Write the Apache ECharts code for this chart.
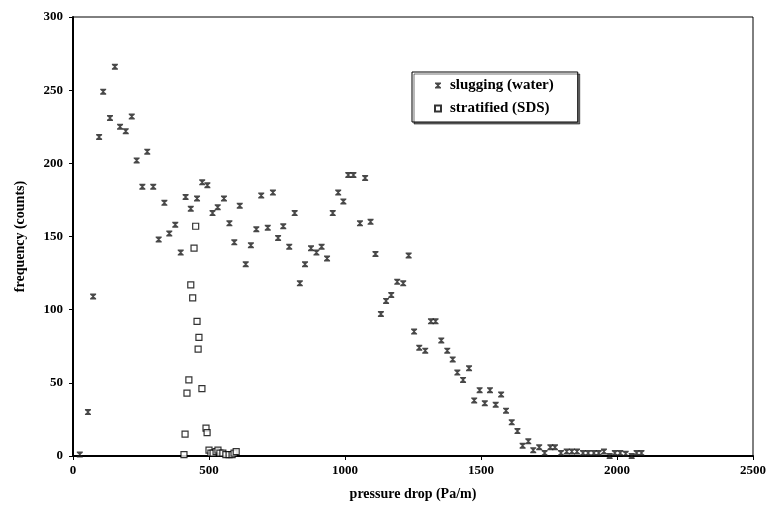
<!DOCTYPE html>
<html>
<head>
<meta charset="utf-8">
<script src="https://cdn.jsdelivr.net/npm/echarts@6/dist/echarts.min.js"></script>
<style>
  html, body { margin: 0; padding: 0; background: #fff; }
  #chart { width: 770px; height: 506px; }
</style>
</head>
<body>
<div id="chart"></div>
<script>
  // pressure drop (Pa/m) and frequency (counts)
  var slugX = [25, 55, 74, 96, 111, 136, 154, 173, 194, 216, 234, 273, 255, 295, 315, 336, 354, 376, 396, 414,
    433, 456, 475, 494, 513, 532, 555, 575, 593, 613, 635, 654, 674, 692, 716, 735, 754, 773, 795, 815,
    834, 853, 875, 895, 914, 934, 955, 975, 994, 1012, 1031, 1055, 1074, 1094, 1112, 1132, 1151, 1170, 1192, 1214,
    1234, 1254, 1273, 1295, 1316, 1333, 1354, 1376, 1396, 1413, 1434, 1456, 1475, 1495, 1514, 1533, 1554, 1574, 1592, 1613,
    1634, 1653, 1674, 1692, 1714, 1734, 1755, 1772, 1794, 1815, 1834, 1853, 1875, 1894, 1915, 1933, 1952, 1973, 1992, 2012,
    2032, 2054, 2072, 2090];
  var slugY = [1, 30, 109, 218, 249, 231, 266, 225, 222, 232, 202, 208, 184, 184, 148, 173, 152, 158, 139, 177,
    169, 176, 187, 185, 166, 170, 176, 159, 146, 171, 131, 144, 155, 178, 156, 180, 149, 157, 143, 166,
    118, 131, 142, 139, 143, 135, 166, 180, 174, 192, 192, 159, 190, 160, 138, 97, 106, 110, 119, 118,
    137, 85, 74, 72, 92, 92, 79, 72, 66, 57, 52, 60, 38, 45, 36, 45, 35, 42, 31, 23,
    17, 7, 10, 4, 6, 2, 6, 6, 2, 3, 3, 3, 2, 2, 2, 2, 3, 0, 2, 2,
    1.5, 0, 2, 2];

  var stratX = [408, 412, 419, 426, 433, 440, 445, 451, 456, 460, 463, 474, 489, 493, 500, 507, 515, 526, 533, 540,
    551, 562, 574, 585, 592, 600];
  var stratY = [1, 15, 43, 52, 117, 108, 142, 157, 92, 73, 81, 46, 19, 16, 4, 2, 2, 3, 4, 2,
    2, 1, 1, 1, 2, 3];

  var xTicks = [0, 500, 1000, 1500, 2000, 2500];
  var yTicks = [0, 50, 100, 150, 200, 250, 300];

  function pairs(xs, ys) {
    return xs.map(function (x, i) { return [x, ys[i]]; });
  }

  var font = '"Liberation Serif", "Times New Roman", serif';
  var xMark = 'path://M0,0L10,0L10,2L6.2,5L10,8L10,10L0,10L0,8L3.8,5L0,2Z';

  var myChart = echarts.init(document.getElementById('chart'));
  var option = {
    backgroundColor: '#fff',
    animation: false,
    grid: {
      left: 73, right: 17, top: 17, bottom: 50,
      show: true,
      borderColor: '#000',
      borderWidth: 1
    },
    legend: {
      orient: 'vertical',
      left: 412,
      top: 72,
      width: 168,
      padding: [6, 24, 6, 22],
      itemGap: 8,
      itemWidth: 6,
      itemHeight: 6,
      backgroundColor: '#fff',
      borderColor: '#000',
      borderWidth: 1,
      shadowColor: 'rgba(0,0,0,0.55)',
      shadowOffsetX: 2,
      shadowOffsetY: 2,
      shadowBlur: 0,
      textStyle: { fontFamily: font, fontWeight: 'bold', fontSize: 15, color: '#000', padding: [0, 0, 0, 4] },
      data: ['slugging (water)', 'stratified (SDS)']
    },
    xAxis: {
      type: 'value',
      min: xTicks[0],
      max: xTicks[xTicks.length - 1],
      interval: 500,
      name: 'pressure drop (Pa/m)',
      nameLocation: 'middle',
      nameGap: 31,
      nameTextStyle: { fontFamily: font, fontWeight: 'bold', fontSize: 14, color: '#000' },
      axisLine: { lineStyle: { color: '#000', width: 2 } },
      axisTick: { show: true, length: 4, lineStyle: { color: '#000' } },
      axisLabel: {
        fontFamily: font, fontWeight: 'bold', fontSize: 13, color: '#000', margin: 8,
        formatter: function (v) { return String(v); }
      },
      splitLine: { show: false }
    },
    yAxis: {
      type: 'value',
      min: yTicks[0],
      max: yTicks[yTicks.length - 1],
      interval: 50,
      name: 'frequency (counts)',
      nameLocation: 'middle',
      nameGap: 46,
      nameTextStyle: { fontFamily: font, fontWeight: 'bold', fontSize: 14, color: '#000' },
      axisLine: { lineStyle: { color: '#000', width: 2 } },
      axisTick: { show: true, length: 4, lineStyle: { color: '#000' } },
      axisLabel: { fontFamily: font, fontWeight: 'bold', fontSize: 13, color: '#000', margin: 10 },
      splitLine: { show: false }
    },
    series: [
      {
        name: 'slugging (water)',
        type: 'scatter',
        symbol: xMark,
        symbolSize: [6, 6],
        itemStyle: { color: '#1a1a1a' },
        data: pairs(slugX, slugY)
      },
      {
        name: 'stratified (SDS)',
        type: 'scatter',
        symbol: 'rect',
        symbolSize: 6,
        itemStyle: { color: '#fff', borderColor: '#000', borderWidth: 1.2 },
        data: pairs(stratX, stratY)
      }
    ]
  };

  option && myChart.setOption(option);
</script>
</body>
</html>
